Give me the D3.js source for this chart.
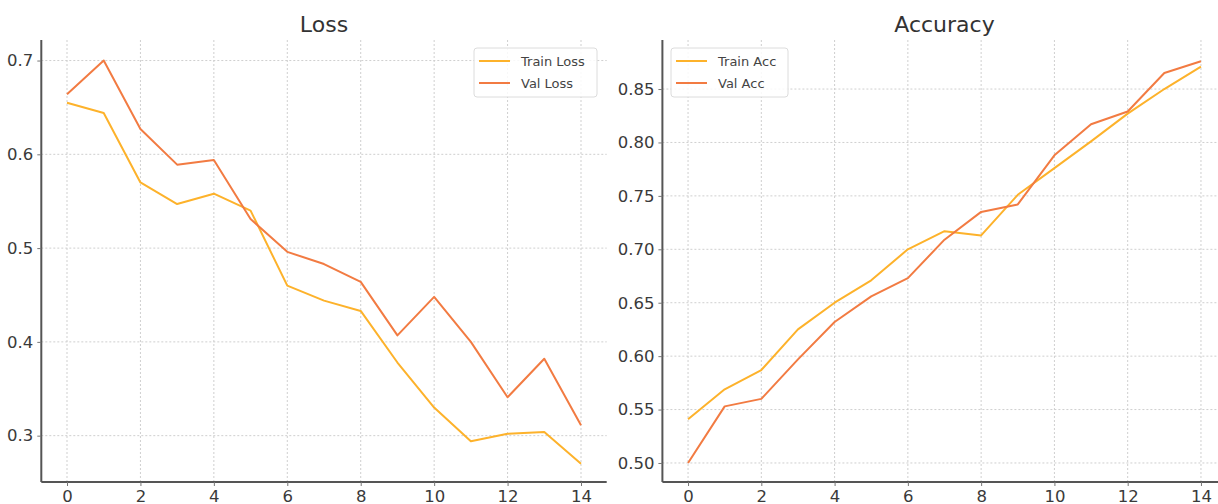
<!DOCTYPE html>
<html>
<head>
<meta charset="utf-8">
<script src="https://cdn.jsdelivr.net/npm/d3@7"></script>
<style>
  body { margin: 0; background: #fff; }
  svg { display: block; font-family: "DejaVu Sans", sans-serif; }
</style>
</head>
<body>
<div id="chart"></div>
<script>
// epochs 0..14
const epochs = d3.range(0, 15);
const trainLoss = [0.655, 0.644, 0.570, 0.547, 0.558, 0.540, 0.460, 0.444, 0.433, 0.378, 0.330, 0.294, 0.302, 0.304, 0.270];
const valLoss   = [0.664, 0.700, 0.627, 0.589, 0.594, 0.531, 0.496, 0.483, 0.464, 0.407, 0.448, 0.400, 0.341, 0.382, 0.311];
const trainAcc  = [0.541, 0.569, 0.587, 0.625, 0.650, 0.671, 0.700, 0.717, 0.713, 0.751, 0.776, 0.801, 0.827, 0.850, 0.871];
const valAcc    = [0.500, 0.553, 0.560, 0.597, 0.632, 0.656, 0.673, 0.709, 0.735, 0.742, 0.788, 0.817, 0.829, 0.865, 0.876];
const xTicks = [0, 2, 4, 6, 8, 10, 12, 14];
const lossTicks = [0.3, 0.4, 0.5, 0.6, 0.7];
const accTicks = [0.50, 0.55, 0.60, 0.65, 0.70, 0.75, 0.80, 0.85];

const W = 1218, H = 504;
const trainColor = "#fdb22b";
const valColor = "#f27b42";

const svg = d3.select("#chart")
    .append("svg")
    .attr("width", W)
    .attr("height", H);

function drawPanel(opts) {
    const { left, right, top, bottom, yDomain, yTicks, yFmt, title, series, legend } = opts;

    var x = d3.scaleLinear().domain([-0.7, 14.7]).range([left, right]);
    var y = d3.scaleLinear().domain(yDomain).range([bottom, top]);

    const g = svg.append("g");

    // grid
    g.append("g")
        .selectAll("line")
        .data(xTicks)
        .enter().append("line")
        .attr("x1", d => x(d)).attr("x2", d => x(d))
        .attr("y1", top).attr("y2", bottom)
        .attr("stroke", "#cfcfcf")
        .attr("stroke-width", 1)
        .attr("stroke-dasharray", "2,2");
    g.append("g")
        .selectAll("line")
        .data(yTicks)
        .enter().append("line")
        .attr("x1", left).attr("x2", right)
        .attr("y1", d => y(d)).attr("y2", d => y(d))
        .attr("stroke", "#cfcfcf")
        .attr("stroke-width", 1)
        .attr("stroke-dasharray", "2,2");

    // axes
    const xAxis = g.append("g")
        .attr("transform", "translate(0," + bottom + ")")
        .call(d3.axisBottom(x).tickValues(xTicks).tickSize(4).tickPadding(4).tickFormat(d3.format("d")));
    const yAxis = g.append("g")
        .attr("transform", "translate(" + left + ",0)")
        .call(d3.axisLeft(y).tickValues(yTicks).tickSize(4).tickPadding(4).tickFormat(d3.format(yFmt)));
    [xAxis, yAxis].forEach(a => {
        a.select(".domain").attr("stroke", "#555").attr("stroke-width", 2);
        a.selectAll(".tick line").attr("stroke", "#777").attr("stroke-width", 1);
        a.selectAll(".tick text")
            .attr("fill", "#3a3a3a")
            .style("font-size", "16.5px")
            .style("font-family", "DejaVu Sans");
    });
    // no end ticks on domain path
    xAxis.select(".domain").attr("d", `M${left},0H${right}`);
    yAxis.select(".domain").attr("d", `M0,${top}V${bottom}`);

    // lines
    var line = d3.line()
        .x((d, i) => x(epochs[i]))
        .y(d => y(d));
    series.forEach(s => {
        g.append("path")
            .datum(s.values)
            .attr("fill", "none")
            .attr("stroke", s.color)
            .attr("stroke-width", 2)
            .attr("stroke-linejoin", "round")
            .attr("d", line);
    });

    // title
    svg.append("text")
        .attr("x", (left + right) / 2)
        .attr("y", 32)
        .attr("text-anchor", "middle")
        .attr("fill", "#333")
        .style("font-size", "22px")
        .text(title);

    // legend
    const lg = svg.append("g").attr("transform", `translate(${legend.x},${legend.y})`);
    lg.append("rect")
        .attr("width", legend.w).attr("height", 49)
        .attr("rx", 3)
        .attr("fill", "#fff").attr("fill-opacity", 0.85)
        .attr("stroke", "#dcdcdc");
    series.forEach((s, i) => {
        const ly = 13 + i * 22;
        lg.append("line")
            .attr("x1", 5).attr("x2", 36)
            .attr("y1", ly).attr("y2", ly)
            .attr("stroke", s.color).attr("stroke-width", 2);
        lg.append("text")
            .attr("x", 47).attr("y", ly)
            .attr("dy", "0.35em")
            .attr("fill", "#444")
            .style("font-size", "13px")
            .text(s.name);
    });
}

drawPanel({
    left: 41.3, right: 606.7, top: 40, bottom: 482,
    yDomain: [0.2506, 0.7219], yTicks: lossTicks, yFmt: ".1f",
    title: "Loss",
    series: [
        { name: "Train Loss", values: trainLoss, color: trainColor },
        { name: "Val Loss", values: valLoss, color: valColor },
    ],
    legend: { x: 474, y: 48, w: 123 },
});

drawPanel({
    left: 662.4, right: 1226.6, top: 40, bottom: 482,
    yDomain: [0.4822, 0.8959], yTicks: accTicks, yFmt: ".2f",
    title: "Accuracy",
    series: [
        { name: "Train Acc", values: trainAcc, color: trainColor },
        { name: "Val Acc", values: valAcc, color: valColor },
    ],
    legend: { x: 671, y: 48, w: 117 },
});
</script>
</body>
</html>
